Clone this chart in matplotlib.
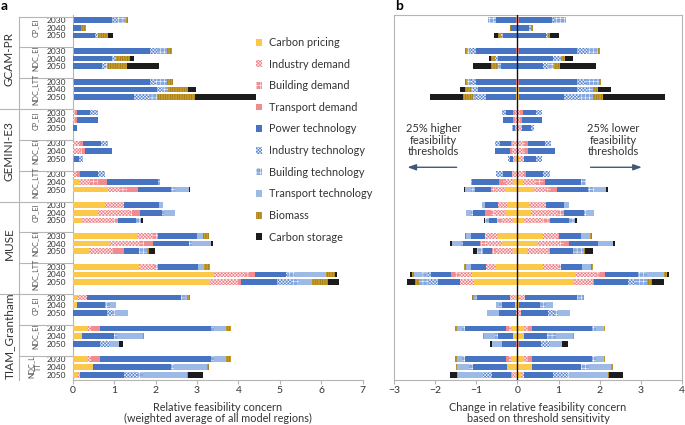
import matplotlib
matplotlib.use("Agg")
import matplotlib.pyplot as plt
import matplotlib.transforms as mtrans
from matplotlib.lines import Line2D
from matplotlib.patches import Patch
import numpy as np

plt.rcParams['font.family'] = ['Lato', 'DejaVu Sans']
plt.rcParams['hatch.linewidth'] = 0.35
plt.rcParams['axes.unicode_minus'] = True

components = ['Carbon pricing', 'Industry demand', 'Building demand', 'Transport demand',
              'Power technology', 'Industry technology', 'Building technology',
              'Transport technology', 'Biomass', 'Carbon storage']
models = ['GCAM-PR', 'GEMINI-E3', 'MUSE', 'TIAM_Grantham']
scenarios = ['CP_EI', 'NDC_EI', 'NDC_LTT']
years = ['2030', '2040', '2050']

# panel a: relative feasibility concern, one row per model / scenario / year
concern = [
    # GCAM-PR
    [0, 0, 0, 0.02, 0.94, 0.10, 0.23, 0, 0.04, 0],
    [0, 0, 0, 0, 0.20, 0, 0, 0, 0.12, 0],
    [0, 0, 0, 0, 0.54, 0.04, 0.02, 0, 0.24, 0.13],
    [0, 0, 0, 0.02, 1.85, 0.16, 0.24, 0, 0.13, 0],
    [0, 0, 0, 0, 0.94, 0.10, 0, 0, 0.35, 0.08],
    [0, 0, 0, 0, 0.70, 0.10, 0.02, 0, 0.50, 0.76],
    [0, 0, 0, 0.02, 1.85, 0.15, 0.26, 0, 0.13, 0],
    [0.03, 0, 0, 0, 2.00, 0.16, 0.10, 0, 0.49, 0.20],
    [0.03, 0, 0, 0, 1.45, 0.35, 0.20, 0, 0.91, 1.48],
    # GEMINI-E3
    [0, 0.06, 0, 0.05, 0.31, 0.18, 0, 0, 0, 0],
    [0, 0.06, 0, 0.05, 0.50, 0, 0, 0, 0, 0],
    [0, 0, 0, 0, 0.10, 0, 0, 0, 0, 0],
    [0, 0.14, 0.04, 0.06, 0.44, 0.17, 0, 0, 0, 0],
    [0, 0.18, 0.04, 0.08, 0.66, 0, 0, 0, 0, 0],
    [0, 0, 0, 0.03, 0.12, 0.10, 0, 0, 0, 0],
    [0, 0.11, 0, 0.07, 0.43, 0.18, 0, 0, 0, 0],
    [0.14, 0.28, 0.18, 0.23, 1.23, 0, 0.05, 0, 0, 0],
    [0.85, 0.30, 0.16, 0.26, 0.81, 0, 0.10, 0.32, 0, 0.02],
    # MUSE
    [0.77, 0.48, 0, 0, 0.83, 0, 0, 0.10, 0, 0],
    [0.60, 0.79, 0.05, 0.19, 0.52, 0, 0.06, 0.25, 0, 0],
    [0.22, 0.77, 0.10, 0, 0.43, 0, 0.12, 0, 0, 0.05],
    [1.56, 0.39, 0.10, 0, 0.94, 0, 0, 0.16, 0.15, 0],
    [0.89, 0.74, 0.10, 0.22, 0.85, 0, 0.08, 0.46, 0, 0.05],
    [0.40, 0.58, 0, 0.26, 0.35, 0, 0.20, 0, 0.04, 0.16],
    [1.59, 0.38, 0.10, 0, 0.95, 0, 0, 0.16, 0.14, 0],
    [3.40, 0.77, 0.08, 0.16, 0.73, 0.05, 0.18, 0.75, 0.20, 0.07],
    [3.31, 0.68, 0, 0.08, 0.87, 0.32, 0.20, 0.32, 0.38, 0.27],
    # TIAM_Grantham
    [0.11, 0.24, 0, 0, 2.26, 0, 0.10, 0.04, 0.08, 0],
    [0.11, 0, 0, 0, 0.67, 0, 0.12, 0.15, 0, 0],
    [0, 0, 0, 0, 0.82, 0.12, 0.08, 0.32, 0, 0],
    [0.35, 0.08, 0, 0.24, 2.66, 0, 0.08, 0.29, 0.12, 0],
    [0.22, 0, 0, 0, 0.77, 0, 0.08, 0.63, 0.03, 0],
    [0, 0, 0, 0, 0.66, 0.23, 0, 0.22, 0, 0.10],
    [0.35, 0.08, 0, 0.24, 2.66, 0, 0.08, 0.29, 0.12, 0],
    [0.50, 0, 0, 0, 1.87, 0, 0.08, 0.79, 0.05, 0],
    [0.11, 0.06, 0, 0, 1.06, 0.31, 0.16, 1.05, 0.04, 0.35],
]

# panel b: change with 25% higher thresholds (plotted to the left)
change_higher = [
    [0, 0, 0, 0.03, 0.49, 0.04, 0.16, 0, 0, 0],
    [0, 0, 0, 0, 0.15, 0, 0, 0, 0.04, 0],
    [0, 0, 0, 0, 0.36, 0.04, 0, 0, 0.08, 0.10],
    [0, 0, 0, 0.03, 0.97, 0.15, 0.08, 0, 0.04, 0],
    [0, 0, 0, 0, 0.48, 0.06, 0, 0, 0.10, 0.06],
    [0, 0, 0, 0, 0.40, 0, 0.08, 0, 0.16, 0.45],
    [0, 0, 0, 0.03, 0.97, 0.12, 0.10, 0, 0.05, 0],
    [0.03, 0, 0, 0, 0.93, 0.12, 0.06, 0, 0.13, 0.12],
    [0.03, 0, 0, 0, 0.73, 0.24, 0.08, 0, 0.25, 0.80],
    [0, 0.05, 0, 0.05, 0.18, 0.10, 0, 0, 0, 0],
    [0, 0.05, 0, 0.05, 0.24, 0, 0, 0, 0, 0],
    [0, 0.07, 0, 0, 0.04, 0.02, 0, 0, 0, 0],
    [0, 0.12, 0, 0.04, 0.27, 0.12, 0, 0, 0, 0],
    [0, 0.12, 0.02, 0.04, 0.37, 0, 0, 0, 0, 0],
    [0.05, 0.06, 0, 0, 0.06, 0.06, 0, 0, 0, 0],
    [0, 0.13, 0, 0, 0.23, 0.15, 0, 0, 0, 0],
    [0.11, 0.16, 0.08, 0.10, 0.65, 0, 0.04, 0, 0, 0],
    [0.30, 0.24, 0.10, 0, 0.40, 0, 0.08, 0.16, 0, 0.03],
    [0.22, 0.26, 0, 0, 0.31, 0, 0, 0.08, 0, 0],
    [0.30, 0.26, 0.08, 0.15, 0.30, 0, 0.04, 0.13, 0, 0],
    [0.11, 0.24, 0.15, 0, 0.19, 0, 0.09, 0, 0, 0.04],
    [0.50, 0.26, 0.02, 0, 0.34, 0, 0, 0.12, 0.04, 0],
    [0.38, 0.38, 0.12, 0.04, 0.40, 0, 0.04, 0.23, 0, 0.04],
    [0.11, 0.42, 0.10, 0, 0.20, 0, 0.15, 0, 0, 0.10],
    [0.52, 0.24, 0, 0, 0.38, 0, 0, 0.12, 0.05, 0],
    [1.10, 0.31, 0.10, 0.10, 0.49, 0.10, 0.11, 0.21, 0.05, 0.03],
    [1.05, 0.35, 0, 0, 0.54, 0.20, 0.26, 0, 0.10, 0.18],
    [0.05, 0.12, 0, 0, 0.81, 0, 0.08, 0, 0.04, 0],
    [0.05, 0, 0, 0, 0.32, 0, 0.08, 0.08, 0, 0],
    [0, 0.03, 0, 0, 0.42, 0, 0, 0.30, 0, 0],
    [0.15, 0.06, 0, 0.06, 1.01, 0, 0.06, 0.13, 0.04, 0],
    [0.11, 0, 0, 0, 0.36, 0, 0.08, 0.27, 0.02, 0],
    [0, 0, 0, 0.03, 0.35, 0, 0, 0.23, 0, 0.06],
    [0.15, 0.06, 0, 0.06, 1.01, 0, 0.06, 0.13, 0.04, 0],
    [0.26, 0, 0, 0, 0.83, 0, 0.08, 0.30, 0.03, 0],
    [0.05, 0.07, 0, 0.03, 0.46, 0.25, 0, 0.58, 0.03, 0.18],
]

# panel b: change with 25% lower thresholds (plotted to the right)
change_lower = [
    [0, 0, 0, 0.05, 0.78, 0.06, 0.30, 0, 0, 0],
    [0, 0, 0, 0, 0.29, 0.04, 0, 0, 0.04, 0],
    [0, 0, 0, 0, 0.70, 0.04, 0, 0, 0.06, 0.20],
    [0, 0, 0, 0.03, 1.43, 0.24, 0.27, 0, 0.03, 0],
    [0, 0, 0, 0, 0.86, 0.20, 0, 0, 0.10, 0.18],
    [0, 0, 0, 0, 0.63, 0.12, 0.15, 0, 0.14, 0.86],
    [0, 0, 0, 0.03, 1.43, 0.20, 0.33, 0, 0.03, 0],
    [0.03, 0, 0, 0, 1.41, 0.27, 0.12, 0, 0.13, 0.32],
    [0.03, 0, 0, 0, 1.09, 0.37, 0.34, 0, 0.26, 1.49],
    [0, 0.07, 0, 0.06, 0.32, 0.14, 0, 0, 0, 0],
    [0, 0.06, 0, 0.05, 0.48, 0, 0, 0, 0, 0],
    [0, 0.10, 0, 0, 0.23, 0.07, 0, 0, 0, 0],
    [0, 0.12, 0.06, 0.08, 0.40, 0.16, 0, 0, 0, 0],
    [0, 0.14, 0.04, 0.08, 0.66, 0, 0, 0, 0, 0],
    [0.05, 0.12, 0, 0, 0.28, 0.14, 0, 0, 0, 0],
    [0, 0.15, 0, 0.06, 0.40, 0.18, 0, 0, 0, 0],
    [0.13, 0.32, 0.18, 0.04, 0.87, 0, 0.12, 0, 0, 0],
    [0.40, 0.30, 0.12, 0.14, 0.75, 0, 0.14, 0.31, 0, 0.03],
    [0.29, 0.40, 0, 0, 0.45, 0, 0, 0.12, 0, 0],
    [0.34, 0.64, 0.14, 0, 0.51, 0, 0.04, 0.20, 0, 0],
    [0.17, 0.45, 0.16, 0, 0.47, 0, 0.14, 0, 0, 0.06],
    [0.63, 0.35, 0.04, 0, 0.53, 0, 0, 0.22, 0.04, 0],
    [0.47, 0.55, 0.10, 0.13, 0.70, 0, 0, 0.38, 0, 0.03],
    [0.23, 0.51, 0.04, 0, 0.57, 0, 0.26, 0, 0.03, 0.19],
    [0.63, 0.39, 0.04, 0, 0.51, 0, 0, 0.23, 0.04, 0],
    [1.43, 0.47, 0.11, 0.13, 0.80, 0, 0.20, 0.43, 0.06, 0.06],
    [1.38, 0.45, 0, 0.04, 0.81, 0.20, 0.27, 0, 0.11, 0.31],
    [0.05, 0.14, 0, 0, 1.26, 0, 0.14, 0, 0.04, 0],
    [0.05, 0, 0, 0, 0.49, 0, 0.16, 0.16, 0, 0],
    [0, 0.09, 0, 0, 0.65, 0.16, 0.08, 0.30, 0, 0],
    [0.17, 0.08, 0, 0.10, 1.47, 0, 0.08, 0.20, 0.04, 0],
    [0.15, 0, 0, 0, 0.57, 0, 0.22, 0.40, 0.03, 0],
    [0, 0, 0, 0.05, 0.53, 0.20, 0, 0.31, 0, 0.14],
    [0.17, 0.08, 0, 0.10, 1.47, 0, 0.08, 0.20, 0.04, 0],
    [0.36, 0, 0, 0, 1.19, 0, 0.19, 0.54, 0.04, 0],
    [0.09, 0.08, 0, 0, 0.69, 0.36, 0.04, 0.93, 0.04, 0.34],
]

# styles: (face, hatch colour, hatch)
styles = [
    ('#fbc84a', '#fbc84a', None),
    ('#ee7e83', 'white', 'x' * 10),
    ('#f08f93', 'white', '+' * 4),
    ('#f28b8f', '#f28b8f', None),
    ('#4673c2', '#4673c2', None),
    ('#5b86ce', 'white', 'x' * 10),
    ('#86a8de', 'white', '+' * 4),
    ('#9db9e5', '#9db9e5', None),
    ('#c59a2b', '#8e6c12', '|' * 7),
    ('#1c1c1c', '#1c1c1c', None),
]
GRID = '#b5b5b5'
TXT = '#333333'

ypos = np.array([4 * g + j for g in range(12) for j in range(3)], dtype=float)
BAR_H = 0.74
YLIM = (46.69, -0.65)


def stack(ax, rows, sign=1):
    vals = np.array(rows, dtype=float)
    cum = np.zeros(len(vals))
    for k, (fc, hc, h) in enumerate(styles):
        w = vals[:, k]
        ax.barh(ypos, sign * w, left=sign * cum, height=BAR_H, color=fc,
                edgecolor=hc, hatch=h, linewidth=0, zorder=3)
        cum += w


fig = plt.figure(figsize=(6.85, 4.25), dpi=100)
axa = fig.add_axes([72.7 / 685, 45 / 425, 290 / 685, 365 / 425])
axb = fig.add_axes([394 / 685, 45 / 425, 288 / 685, 365 / 425])

# ---- panel a ----
stack(axa, concern)
axa.set_xlim(0, 7)
axa.set_ylim(*YLIM)
axa.set_xticks(range(8))
axa.set_yticks(ypos)
axa.set_yticklabels(years * 12, fontsize=6, color=TXT)
axa.tick_params(axis='y', length=0, pad=5)
axa.tick_params(axis='x', labelsize=7.5, colors=TXT, length=3, color=GRID, width=0.8, pad=1.5)
for s in ('top', 'right'):
    axa.spines[s].set_visible(False)
for s in ('left', 'bottom'):
    axa.spines[s].set_color(GRID)
    axa.spines[s].set_linewidth(0.8)
axa.set_xlabel('Relative feasibility concern\n(weighted average of all model regions)',
               fontsize=7.8, color=TXT, labelpad=5, linespacing=1.0)

# label columns left of the bars
tr = mtrans.blended_transform_factory(axa.transAxes, axa.transData)
x_vline = (19 - 72.7) / 290
x_scen = (35 - 72.7) / 290
x_model = (9 - 72.7) / 290
x_left = -72.7 / 290
for g in range(12):
    ytop = 4 * g - 0.45
    x0 = x_left if (g % 3 == 0 and g > 0) else x_vline
    axa.add_line(Line2D([x0, 0], [ytop, ytop], transform=tr, color=GRID, lw=0.8,
                        clip_on=False))
    sc = scenarios[g % 3]
    if g == 11:
        sc = 'NDC_L\nTT'
    axa.text(x_scen, 4 * g + 1, sc, transform=tr, rotation=90, ha='center', va='center',
             fontsize=5.2, color='#555555', linespacing=1.0, clip_on=False)
axa.add_line(Line2D([x_vline, x_vline], [-0.45, YLIM[0]], transform=tr, color=GRID,
                    lw=0.8, clip_on=False))
for m, name in enumerate(models):
    axa.text(x_model, 4 * (3 * m + 1) + 1, name, transform=tr, rotation=90, ha='center',
             va='center', fontsize=8.5, color=TXT, clip_on=False)

# ---- panel b ----
stack(axb, change_higher, sign=-1)
stack(axb, change_lower, sign=1)
axb.axvline(0, color='#111111', lw=1.0, zorder=5)
axb.set_xlim(-3, 4)
axb.set_ylim(*YLIM)
axb.set_yticks([])
axb.set_xticks(range(-3, 5))
axb.tick_params(axis='x', labelsize=7.5, colors=TXT, length=3, color=GRID, width=0.8, pad=1.5)
for s in axb.spines.values():
    s.set_color(GRID)
    s.set_linewidth(0.8)
axb.set_xlabel('Change in relative feasibility concern\nbased on threshold sensitivity',
               fontsize=7.8, color=TXT, labelpad=5, linespacing=1.0)

axb.text(-2.04, 15.6, '25% higher\nfeasibility\nthresholds', ha='center', va='center',
         fontsize=8, color=TXT, linespacing=1.05)
axb.text(2.33, 15.6, '25% lower\nfeasibility\nthresholds', ha='center', va='center',
         fontsize=8, color=TXT, linespacing=1.05)
ARROW = '#3f5876'
axb.annotate('', xy=(-2.74, 19.1), xytext=(-1.41, 19.1),
             arrowprops=dict(arrowstyle='-|>,head_length=0.5,head_width=0.18',
                             color=ARROW, lw=1.0))
axb.annotate('', xy=(3.09, 19.1), xytext=(1.71, 19.1),
             arrowprops=dict(arrowstyle='-|>,head_length=0.5,head_width=0.18',
                             color=ARROW, lw=1.0))

# ---- legend ----
handles = [Patch(facecolor=fc, edgecolor=hc, hatch=h, linewidth=0) for fc, hc, h in styles]
fig.legend(handles, components, loc='upper left', bbox_to_anchor=(256 / 685, 1 - 37 / 425),
           frameon=False, fontsize=7.8, handlelength=0.6, handleheight=0.6,
           handletextpad=0.6, labelspacing=0.98, borderpad=0, borderaxespad=0,
           labelcolor=TXT)

fig.text(1 / 685, 1 - 6 / 425, 'a', fontsize=10, fontweight='bold', va='center')
fig.text(395 / 685, 1 - 6 / 425, 'b', fontsize=10, fontweight='bold', va='center')

fig.savefig('out.png', dpi=100)
